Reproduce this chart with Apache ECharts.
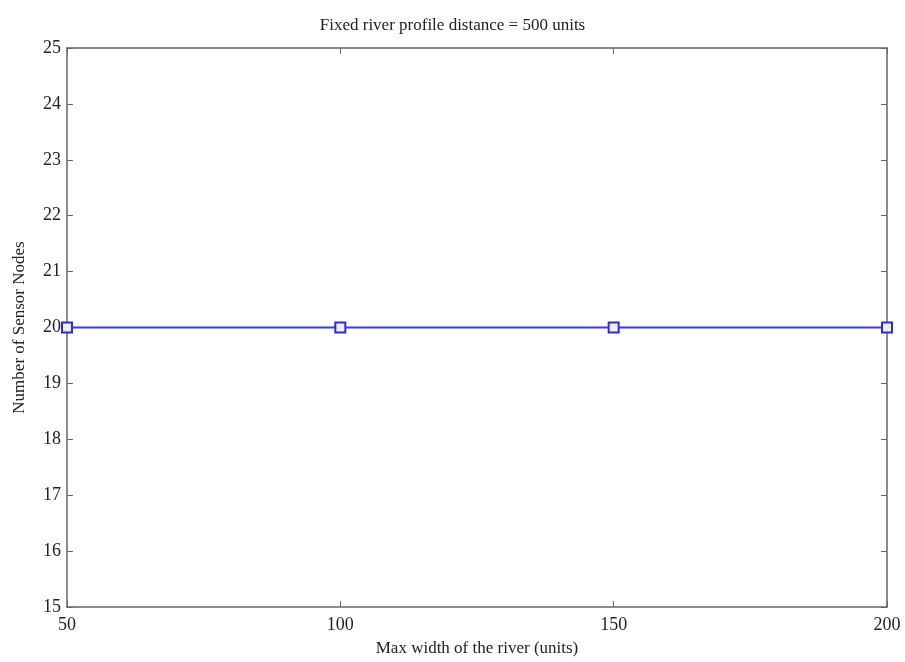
<!DOCTYPE html>
<html><head><meta charset="utf-8">
<script src="https://cdn.jsdelivr.net/npm/echarts@6/dist/echarts.min.js"></script>
<style>html,body{margin:0;padding:0;background:#fff}#c{width:905px;height:662px}</style>
</head><body><div id="c"></div>
<script>
const xValues = [50, 100, 150, 200];
const sensorNodes = [20, 20, 20, 20];
const titleText = 'Fixed river profile distance = 500 units';
const xName = 'Max width of the river (units)';
const yName = 'Number of Sensor Nodes';

const font = 'Liberation Serif';
const axisCol = '#666';
const chart = echarts.init(document.getElementById('c'));
const common = {
  axisLine: {show: true, onZero: false, lineStyle: {color: axisCol, width: 1.5}},
  axisTick: {show: true, inside: true, length: 6, lineStyle: {color: axisCol}},
  splitLine: {show: false}
};
chart.setOption({
  backgroundColor: '#fff',
  title: {text: titleText, left: 'center', top: 12,
    textStyle: {fontFamily: font, fontSize: 17, fontWeight: 'normal', color: '#222'}},
  grid: {left: 67, right: 18, top: 48, bottom: 53},
  xAxis: [
    Object.assign({type: 'value', min: 50, max: 200, interval: 50, position: 'bottom',
      name: xName, nameLocation: 'middle', nameGap: 33,
      nameTextStyle: {fontFamily: font, fontSize: 17, color: '#222'},
      axisLabel: {fontFamily: font, fontSize: 18, color: '#222', margin: 9}}, common),
    Object.assign({type: 'value', min: 50, max: 200, interval: 50, position: 'top',
      axisLabel: {show: false}}, common)
  ],
  yAxis: [
    Object.assign({type: 'value', min: 15, max: 25, interval: 1, position: 'left',
      name: yName, nameLocation: 'middle', nameGap: 39,
      nameTextStyle: {fontFamily: font, fontSize: 17, color: '#222'},
      axisLabel: {fontFamily: font, fontSize: 18, color: '#222', margin: 6}}, common),
    Object.assign({type: 'value', min: 15, max: 25, interval: 1, position: 'right',
      axisLabel: {show: false}}, common)
  ],
  series: [{
    type: 'line',
    data: xValues.map((x, i) => [x, sensorNodes[i]]),
    symbol: 'rect', symbolSize: 10,
    lineStyle: {color: '#3a3af0', width: 2},
    itemStyle: {color: '#eef', borderColor: '#2a2ae0', borderWidth: 2},
    clip: false,
    animation: false
  }]
});
</script></body></html>
